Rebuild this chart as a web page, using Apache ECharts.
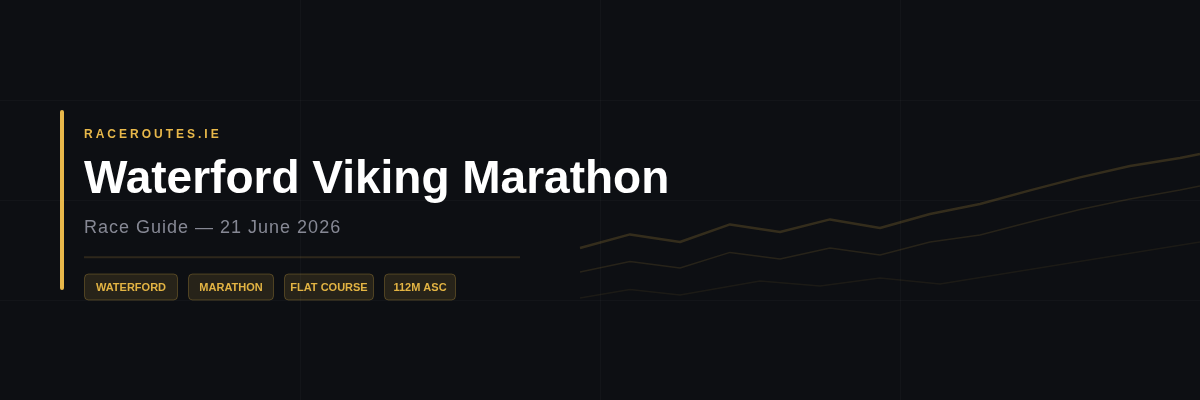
<!DOCTYPE html>
<html><head><meta charset="utf-8">
<script src="https://cdn.jsdelivr.net/npm/echarts@6/dist/echarts.min.js"></script>
<style>html,body{margin:0;padding:0;background:#0d0f13;}#c{width:1200px;height:400px;}</style>
</head><body><div id="c"></div>
<script>
// ---- data ----
const brand = 'RACEROUTES.IE';
const title = 'Waterford Viking Marathon';
const subtitle = 'Race Guide — 21 June 2026';
const tags = ['WATERFORD', 'MARATHON', 'FLAT COURSE', '112M ASC'];
const kmMain = [0, 1, 2, 3, 4, 5, 6, 7, 8, 9, 10, 11, 12, 12.4];
const elevTop = [26, 32.8, 29, 37.8, 34, 40.3, 36, 43, 48, 54.8, 61.3, 67, 71, 73];
const elevMid = [14, 19.3, 16, 23.8, 20.5, 26, 22.5, 29, 32.5, 39, 45.3, 50.5, 55, 57];
const kmLow = [0, 1, 2, 3.6, 4.8, 6, 7.2, 12.4];
const elevLow = [1, 5.3, 2.5, 9.5, 7, 11, 8, 29];

// ---- layout / style ----
const FONT = '"Liberation Sans", Arial, Helvetica, sans-serif';
const GOLD = '#e8b84a';
const TAG_W = [94, 86, 90, 72];
const TAG_GAP = 10;
const X0 = 84;

const mctx = document.createElement('canvas').getContext('2d');
function spaced(text, x, y, font, spacing, fill) {
  mctx.font = font;
  const els = [];
  let cx = x;
  for (const ch of text) {
    els.push({ type: 'text', silent: true, style: { text: ch, x: cx, y: y, font: font, fill: fill, align: 'left', verticalAlign: 'middle', textAlign: 'left', textVerticalAlign: 'middle' } });
    cx += mctx.measureText(ch).width + spacing;
  }
  return els;
}

const graphics = [];
// accent bar
graphics.push({ type: 'rect', silent: true, shape: { x: 60, y: 110, width: 4, height: 180, r: 2 }, style: { fill: GOLD } });
// brand
graphics.push(...spaced(brand, X0, 134.5, 'bold 12px ' + FONT, 3, GOLD));
// title
graphics.push({ type: 'text', silent: true, style: { text: title, x: X0, y: 180.5, font: 'bold 46px ' + FONT, fill: '#ffffff', align: 'left', verticalAlign: 'middle', textAlign: 'left', textVerticalAlign: 'middle' } });
// subtitle
graphics.push(...spaced(subtitle, X0, 228, '18px ' + FONT, 1, '#868894'));
// divider
graphics.push({ type: 'rect', silent: true, shape: { x: X0, y: 256.3, width: 436, height: 2 }, style: { fill: 'rgba(232,184,74,0.15)' } });
// tags
let tx = X0;
tags.forEach((t, i) => {
  const w = TAG_W[i];
  graphics.push({ type: 'rect', silent: true, shape: { x: tx + 0.5, y: 274, width: w - 1, height: 26, r: 4 }, style: { fill: 'rgba(232,184,74,0.12)', stroke: 'rgba(232,184,74,0.26)', lineWidth: 1 } });
  graphics.push({ type: 'text', silent: true, style: { text: t, x: tx + w / 2, y: 287.5, font: 'bold 11px ' + FONT, fill: '#e3b443', align: 'center', verticalAlign: 'middle', textAlign: 'center', textVerticalAlign: 'middle' } });
  tx += w + TAG_GAP;
});

const hidden = { axisLine: { show: false }, axisTick: { show: false }, axisLabel: { show: false } };
const gridLine = { show: true, showMinLine: false, showMaxLine: false, lineStyle: { color: 'rgba(255,255,255,0.028)', width: 1 } };
const option = {
  backgroundColor: '#0d0f13',
  animation: false,
  grid: [
    { left: 0, right: 0, top: 0, bottom: 0 },
    { left: 580, right: 0, top: 100, bottom: 100 }
  ],
  xAxis: [
    Object.assign({ gridIndex: 0, type: 'value', min: 0, max: 1200, interval: 300, splitLine: gridLine }, hidden),
    { gridIndex: 1, type: 'value', min: 0, max: 12.4, show: false }
  ],
  yAxis: [
    Object.assign({ gridIndex: 0, type: 'value', min: 0, max: 400, interval: 100, splitLine: gridLine }, hidden),
    { gridIndex: 1, type: 'value', min: 0, max: 100, show: false }
  ],
  series: [
    { type: 'line', xAxisIndex: 1, yAxisIndex: 1, silent: true, showSymbol: false, data: kmLow.map((k, i) => [k, elevLow[i]]), lineStyle: { color: 'rgba(232,184,74,0.07)', width: 1.5 } },
    { type: 'line', xAxisIndex: 1, yAxisIndex: 1, silent: true, showSymbol: false, data: kmMain.map((k, i) => [k, elevMid[i]]), lineStyle: { color: 'rgba(232,184,74,0.12)', width: 1.5 } },
    { type: 'line', xAxisIndex: 1, yAxisIndex: 1, silent: true, showSymbol: false, data: kmMain.map((k, i) => [k, elevTop[i]]), lineStyle: { color: 'rgba(232,184,74,0.18)', width: 2.5 } }
  ],
  graphic: { elements: graphics }
};
const chart = echarts.init(document.getElementById('c'), null, { renderer: 'canvas' });
chart.setOption(option);
</script>
</body></html>
